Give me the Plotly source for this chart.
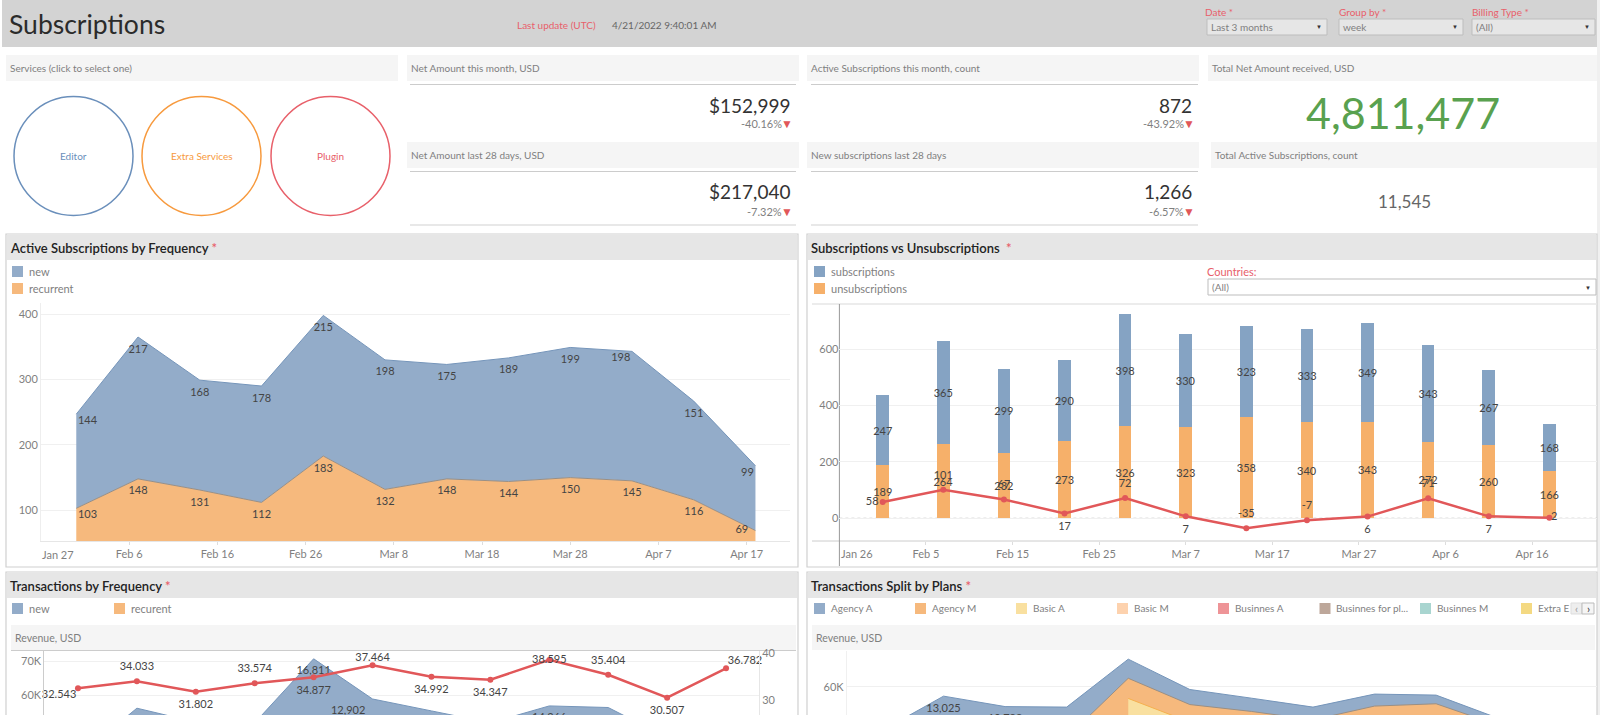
# Subscriptions dashboard, rebuilt as one plotly figure
import plotly.graph_objects as go

W, H = 1600, 715
FONT = 'Lato'
RED = '#e8606a'
GREY = '#7f7f7f'
DARK = '#444444'

weeks = ['2022-01-31', '2022-02-07', '2022-02-14', '2022-02-21', '2022-02-28', '2022-03-07',
         '2022-03-14', '2022-03-21', '2022-03-28', '2022-04-04', '2022-04-11', '2022-04-18']

# active subscriptions
active_new = [144, 217, 168, 178, 215, 198, 175, 189, 199, 198, 151, 99]
active_recurrent = [103, 148, 131, 112, 183, 132, 148, 144, 150, 145, 116, 69]
active_ticks = ['2022-02-06', '2022-02-16', '2022-02-26', '2022-03-08', '2022-03-18', '2022-03-28', '2022-04-07', '2022-04-17']
active_ticktext = ['Feb 6', 'Feb 16', 'Feb 26', 'Mar 8', 'Mar 18', 'Mar 28', 'Apr 7', 'Apr 17']

# subs vs unsubs
subs = [247, 365, 299, 290, 398, 330, 323, 333, 349, 343, 267, 168]
unsubs = [189, 264, 232, 273, 326, 323, 358, 340, 343, 272, 260, 166]
net = [58, 101, 67, 17, 72, 7, -35, -7, 6, 71, 7, 2]
net_pos = ['middle left', 'top center', 'top center', 'bottom center', 'top center', 'bottom center',
           'top center', 'top center', 'bottom center', 'top center', 'bottom center', 'middle right']
subs_ticks = ['2022-02-05', '2022-02-15', '2022-02-25', '2022-03-07', '2022-03-17', '2022-03-27', '2022-04-06', '2022-04-16']
subs_ticktext = ['Feb 5', 'Feb 15', 'Feb 25', 'Mar 7', 'Mar 17', 'Mar 27', 'Apr 6', 'Apr 16']

# transactions by frequency (lower part is cut off by the window)
tx_recurrent = [33800, 44400, 41000, 40400, 54000, 46100, 43400, 40300, 42700, 42600, 36900, 28100]
tx_new = [8200, 11900, 11200, 11600, 16811, 12902, 12100, 11700, 14266, 13900, 10800, 6900]
tx_new_labels = ['', '', '', '', '16,811', '12,902', '', '', '14,266', '', '', '']
tx_new_pos = ['bottom center'] * 5 + ['bottom left'] + ['bottom center'] * 6
revenue_line = [32.543, 34.033, 31.802, 33.574, 34.877, 37.464, 34.992, 34.347, 38.595, 35.404, 30.507, 36.782]
revenue_pos = ['bottom left', 'top center', 'bottom center', 'top center', 'bottom center', 'top center',
               'bottom center', 'bottom center', 'middle center', 'top center', 'bottom center', 'top right']

# plans, tops of the stacked layers
plan_a_top = [42800, 56300, 52200, 52000, 70800, 58900, 55500, 52000, 57100, 56700, 47700, 35000]
plan_m_top = [33000, 39000, 38000, 40000, 63300, 53000, 50300, 47000, 52400, 53300, 45000, 31000]
plan_basic_top = [55400, 46100, 44000, 42000, 44000, 44000, 40000, 28000]
plan_a_labels = ['', '13,025', '10,788', '11,031', '', '', '', '', '', '', '', '']
plan_a_pos = ['bottom center'] * 3 + ['bottom left'] + ['bottom center'] * 8
plan_names = ['Agency A', 'Agency M', 'Basic A', 'Basic M', 'Businnes A', 'Businnes for pl...', 'Businnes M', 'Extra E']
plan_colors = ['#93acc9', '#f6b97d', '#f9e0a0', '#fdd2ae', '#ee9497', '#bda79a', '#a9d5d0', '#f4d982']


def fx(x):
    return x / W


def fy(y):
    return 1 - y / H


shapes = []
notes = []


def rect(x0, y0, x1, y1, fill='rgba(0,0,0,0)', line=None, width=1):
    shapes.append(dict(type='rect', xref='paper', yref='paper', x0=fx(x0), x1=fx(x1), y0=fy(y0), y1=fy(y1),
                       fillcolor=fill, line=dict(color=line or 'rgba(0,0,0,0)', width=width), layer='below'))


def hline(x0, x1, y, color='#cccccc', width=1):
    shapes.append(dict(type='line', xref='paper', yref='paper', x0=fx(x0), x1=fx(x1), y0=fy(y), y1=fy(y),
                       line=dict(color=color, width=width), layer='below'))


def vline(x, y0, y1, color='#cccccc', width=1):
    shapes.append(dict(type='line', xref='paper', yref='paper', x0=fx(x), x1=fx(x), y0=fy(y0), y1=fy(y1),
                       line=dict(color=color, width=width), layer='below'))


def label(x, y, text, size=10, color=GREY, anchor='left', weight=None):
    f = dict(family=FONT, size=size, color=color)
    if weight:
        f['weight'] = weight
    notes.append(dict(xref='paper', yref='paper', x=fx(x), y=fy(y), text=text, showarrow=False,
                      xanchor=anchor, yanchor='middle', font=f, borderpad=0))


def combo(x0, x1, y0, y1, text, fill='#e6e6e6', border='#bdbdbd'):
    rect(x0, y0, x1, y1, fill=fill, line=border)
    label(x0 + 3, (y0 + y1) / 2, text, size=10, color=GREY)
    label(x1 - 8, (y0 + y1) / 2, '▼', size=6, color='#333333', anchor='center')


# header
rect(2, 0, 1597, 47, fill='#d3d3d3')
rect(1597, 0, 1600, 715, fill='#f0f0f0')
label(7.5, 24, 'Subscriptions', size=26.5, color='#2b2b2b')
label(516, 24.5, 'Last update (UTC)', color=RED)
label(611, 24.5, '4/21/2022 9:40:01 AM', color='#666666')
label(1204, 12, 'Date *', color=RED)
label(1338, 12, 'Group by *', color=RED)
label(1471, 12, 'Billing Type *', color=RED)
combo(1207, 1327, 19, 35, 'Last 3 months')
combo(1339, 1463, 19, 35, 'week')
combo(1472, 1595, 19, 35, '(All)')

# top boxes
for x0, x1, ty, txt in [(6, 398, 55, 'Services (click to select one)'),
                        (407, 799, 55, 'Net Amount this month, USD'),
                        (407, 799, 142, 'Net Amount last 28 days, USD'),
                        (807, 1199, 55, 'Active Subscriptions this month, count'),
                        (807, 1199, 142, 'New subscriptions last 28 days'),
                        (1208, 1597, 55, 'Total Net Amount received, USD'),
                        (1211, 1597, 142, 'Total Active Subscriptions, count')]:
    rect(x0, ty, x1, ty + 26, fill='#f5f5f5')
    label(x0 + 2.5, ty + 13.5, txt, color=GREY)

for cx, txt, col in [(73.5, 'Editor', '#6a8fbb'), (201.5, 'Extra Services', '#f79a3e'), (330.5, 'Plugin', '#e8606a')]:
    shapes.append(dict(type='circle', xref='paper', yref='paper', x0=fx(cx - 59.5), x1=fx(cx + 59.5),
                       y0=fy(215.5), y1=fy(96.5), line=dict(color=col, width=1.5), layer='below'))
    label(cx, 156, txt, color=col, anchor='center')

for x0, x1, y1, y2, y3, big, pct in [(410, 796, 84.5, 105, 124, '$152,999', '-40.16%'),
                                     (410, 796, 171.5, 191, 211, '$217,040', '-7.32%'),
                                     (811, 1198, 84.5, 105, 124, '872', '-43.92%'),
                                     (811, 1198, 171.5, 191, 211, '1,266', '-6.57%')]:
    hline(x0, x1, y1, color='#cccccc')
    label(x1 - 5, y2, big, size=19, color='#333333', anchor='right')
    label(x1 - 13, y3, pct, size=11, color=GREY, anchor='right')
    label(x1 - 9, y3, '▼', size=12, color='#e15759', anchor='center')
hline(410, 796, 225, color='#e0e0e0', width=1.5)
hline(811, 1198, 225, color='#e0e0e0', width=1.5)

label(1403, 112, '4,811,477', size=43, color='#59a14f', anchor='center')
label(1404, 201, '11,545', size=17, color='#666666', anchor='center')


def panel(x0, x1, y0, y1, title):
    rect(x0, y0, x1, y1, line='#d0d0d0', width=1.2)
    rect(x0 + 1, y0 + 1, x1 - 1, y0 + 26, fill='#e6e6e6')
    label(x0 + 2.5, y0 + 14, title + ' <span style="color:#e8606a">*</span>', size=13, color='#222222', weight=600)


def swatch(x, y, color, text, size=11):
    rect(x, y, x + 11, y + 11, fill=color)
    label(x + 15.5, y + 5, text, size=size, color=GREY)


# panels
panel(6, 798, 234, 567, 'Active Subscriptions by Frequency')
swatch(12, 266, '#93acc9', 'new')
swatch(12, 283, '#f6b97d', 'recurrent')

panel(807, 1597, 234, 567, 'Subscriptions vs Unsubscriptions ')
swatch(814, 266, '#85a3c3', 'subscriptions')
swatch(814, 283, '#f6b06a', 'unsubscriptions')
label(1206, 271, 'Countries:', size=11, color=RED)
combo(1208, 1596, 279, 295, '(All)', fill='#ffffff')
hline(812, 1597, 304, color='#e6e6e6', width=1.5)
hline(812, 1597, 541, color='#cccccc')
vline(839.4, 304, 566, color='#999999')

panel(6, 798, 572, 730, 'Transactions by Frequency')
swatch(12, 603, '#93acc9', 'new')
swatch(114, 603, '#f6b97d', 'recurent')
rect(11, 625, 796, 650, fill='#f5f5f5')
label(14, 638, 'Revenue, USD', size=10.5, color=GREY)
hline(11, 796, 650.5, color='#cccccc')

panel(807, 1597, 572, 730, 'Transactions Split by Plans')
for lx, name, col in zip([814, 915, 1016, 1117, 1218, 1319.5, 1420, 1521], plan_names, plan_colors):
    swatch(lx, 603, col, name, size=10)
rect(1571, 603, 1582, 614, fill='#eeeeee', line='#dddddd')
rect(1582, 603, 1594, 614, fill='#f5f5f5', line='#bbbbbb')
label(1576.5, 608.5, '‹', size=11, color='#999999', anchor='center')
label(1588, 608.5, '›', size=11, color='#333333', anchor='center')
rect(812, 625, 1595, 650, fill='#f5f5f5')
label(814.5, 638, 'Revenue, USD', size=10.5, color=GREY)

fig = go.Figure()
text_font = dict(family=FONT, size=11, color=DARK)

# chart 1, marker size only pushes the label away from the point
fig.add_scatter(x=weeks, y=active_recurrent, name='recurrent', stackgroup='a', mode='lines+text+markers',
                marker=dict(size=[1] + [10] * 11, opacity=0), line=dict(color='#9a8f84', width=1),
                fillcolor='#f6b97d', text=active_recurrent,
                textposition=['bottom right'] + ['bottom center'] * 10 + ['middle left'],
                textfont=text_font, xaxis='x', yaxis='y', cliponaxis=False)
fig.add_scatter(x=weeks, y=active_new, name='new', stackgroup='a', mode='lines+text+markers',
                marker=dict(size=[1] + [10] * 8 + [1, 10, 1], opacity=0), line=dict(color='#7595ba', width=1),
                fillcolor='#93acc9', text=active_new,
                textposition=['bottom right'] + ['bottom center'] * 8 + ['bottom left', 'bottom center', 'bottom left'],
                textfont=text_font, xaxis='x', yaxis='y')

# chart 2
bar_ms = 1.45 * 24 * 3600 * 1000
fig.add_bar(x=weeks, y=unsubs, name='unsubscriptions', marker=dict(color='#f6b06a', line=dict(width=0)),
            width=bar_ms, text=unsubs, textposition='inside', insidetextanchor='middle', textangle=0,
            constraintext='none', textfont=text_font, xaxis='x2', yaxis='y2')
fig.add_bar(x=weeks, y=subs, name='subscriptions', marker=dict(color='#85a3c3', line=dict(width=0)),
            width=bar_ms, text=subs, textposition='inside', insidetextanchor='middle', textangle=0,
            constraintext='none', textfont=text_font, xaxis='x2', yaxis='y2')
fig.add_scatter(x=weeks, y=net, name='net', mode='lines+markers', line=dict(color='#e15759', width=2.5),
                marker=dict(size=6, color='#e15759'), xaxis='x2', yaxis='y2', cliponaxis=False)
fig.add_scatter(x=weeks, y=net, name='net labels', mode='markers+text',
                marker=dict(size=[5] + [12] * 10 + [1], opacity=0), text=net, textposition=net_pos,
                textfont=text_font, xaxis='x2', yaxis='y2', cliponaxis=False)

# chart 3
fig.add_scatter(x=weeks, y=tx_recurrent, name='recurent', stackgroup='t', mode='lines',
                line=dict(color='#9a8f84', width=1), fillcolor='#f6b97d', xaxis='x3', yaxis='y3')
fig.add_scatter(x=weeks, y=tx_new, name='new', stackgroup='t', mode='lines+text+markers',
                marker=dict(size=10, opacity=0), line=dict(color='#7595ba', width=1), fillcolor='#93acc9',
                text=tx_new_labels, textposition=tx_new_pos, textfont=text_font, xaxis='x3', yaxis='y3')
fig.add_scatter(x=weeks, y=revenue_line, name='transactions', mode='lines+markers',
                line=dict(color='#e15759', width=2.5), marker=dict(size=6, color='#e15759'), xaxis='x3', yaxis='y4')
fig.add_scatter(x=weeks, y=revenue_line, name='transactions labels', mode='markers+text',
                marker=dict(size=[1, 12, 12, 12, 12, 1, 12, 12, 1, 12, 12, 1], opacity=0),
                text=[f'{v:.3f}' for v in revenue_line], textposition=revenue_pos,
                textfont=text_font, xaxis='x3', yaxis='y4', cliponaxis=False)

# chart 4
fig.add_scatter(x=weeks, y=plan_a_top, name='Agency A', mode='lines+text+markers', fill='tozeroy',
                marker=dict(size=10, opacity=0), line=dict(color='#7595ba', width=1), fillcolor='#93acc9',
                text=plan_a_labels, textposition=plan_a_pos, textfont=text_font, xaxis='x4', yaxis='y5')
fig.add_scatter(x=weeks, y=plan_m_top, name='Agency M', mode='lines', fill='tozeroy',
                line=dict(color='#9a8f84', width=1), fillcolor='#f6b97d', xaxis='x4', yaxis='y5')
fig.add_scatter(x=weeks[4:], y=plan_basic_top, name='Basic A', mode='lines', fill='tozeroy',
                line=dict(color='#f5b04e', width=1), fillcolor='#f9e0a0', xaxis='x4', yaxis='y5')

# first tick labels start at the axis, not centred on it
label(41, 554, 'Jan 27', size=11, color=GREY)
label(840, 553, 'Jan 26', size=11, color=GREY)

tick_font = dict(family=FONT, size=11, color=GREY)
x_common = dict(type='date', showgrid=False, zeroline=False, ticks='outside', ticklen=3, tickcolor='#dddddd',
                tickfont=tick_font, tickangle=0, showline=False)
y_common = dict(showgrid=True, gridcolor='#f0f0f0', gridwidth=1, zeroline=False, ticks='', tickfont=tick_font, ticklen=0)

fig.update_layout(
    width=W, height=H, autosize=False, margin=dict(l=0, r=0, t=0, b=0, autoexpand=False), showlegend=False,
    paper_bgcolor='white', plot_bgcolor='rgba(0,0,0,0)', barmode='stack', shapes=shapes, annotations=notes,
    font=dict(family=FONT),
    xaxis=dict(x_common, domain=[fx(41), fx(790)], range=['2022-01-27', '2022-04-21 22:00'], anchor='y',
               tickvals=active_ticks, ticktext=active_ticktext, showline=True, linecolor='#e6e6e6'),
    yaxis=dict(y_common, domain=[fy(541), fy(303)], range=[53, 417], anchor='x', tickvals=[100, 200, 300, 400],
               showline=True, linecolor='#eeeeee'),
    xaxis2=dict(x_common, domain=[fx(839.4), fx(1597)], range=['2022-01-26', '2022-04-23 12:00'], anchor='y2',
                tickvals=subs_ticks, ticktext=subs_ticktext),
    yaxis2=dict(y_common, domain=[fy(541), fy(304)], range=[-80.5, 760], anchor='x2', tickvals=[0, 200, 400, 600]),
    xaxis3=dict(domain=[fx(44.3), fx(759)], range=['2022-01-27', '2022-04-21 22:00'], type='date', anchor='y3', visible=False),
    yaxis3=dict(y_common, domain=[fy(715), fy(651)], range=[54300, 73100], anchor='x3', tickvals=[60000, 70000],
                ticktext=['60K', '70K'], showline=True, linecolor='#cccccc'),
    yaxis4=dict(y_common, domain=[fy(715), fy(651)], range=[26.8, 40.5], anchor='x3', overlaying='y3', side='right',
                tickvals=[30, 40], showgrid=False, showline=True, linecolor='#e6e6e6'),
    xaxis4=dict(domain=[fx(846.8), fx(1597)], range=['2022-01-27', '2022-04-22 07:00'], type='date', anchor='y5', visible=False),
    yaxis5=dict(y_common, domain=[fy(715), fy(651)], range=[48900, 74000], anchor='x4', tickvals=[60000],
                ticktext=['60K'], showline=True, linecolor='#f0f0f0'),
)
# zero line of the net series, dotted like the original
shapes_zero = dict(type='line', xref='x2 domain', yref='y2', x0=0, x1=1, y0=0, y1=0,
                   line=dict(color='#aaaaaa', width=1, dash='dot'), layer='below')
fig.add_shape(shapes_zero)

fig.write_html('out.html', config={'displayModeBar': False},
               post_script="document.body.style.margin='0';document.body.style.overflow='hidden';"
                           "var g=document.querySelector('.plotly-graph-div');"
                           "g.style.position='fixed';g.style.left='0';g.style.top='0';")
